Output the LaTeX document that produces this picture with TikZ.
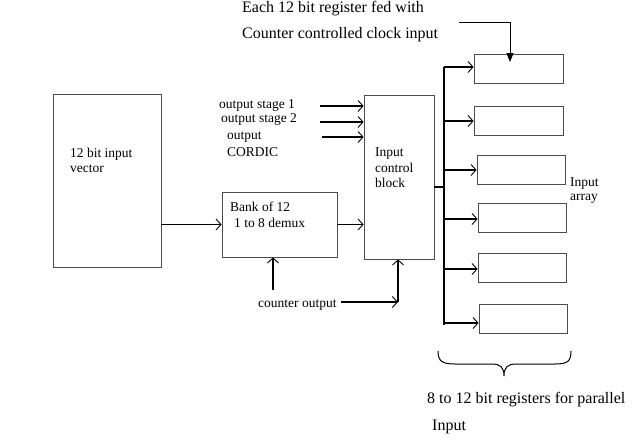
\documentclass[tikz,border=0pt]{standalone}
\usepackage{fontspec}
\setmainfont{Liberation Serif}
\usetikzlibrary{arrows.meta}
\begin{document}
\begin{tikzpicture}[x=1pt,y=-1pt,
  box/.style={draw=black!70,line width=0.8pt,rectangle,inner sep=0pt},
  lbl/.style={inner sep=0pt,anchor=base west,font=\fontsize{13.5}{16}\selectfont},
  big/.style={inner sep=0pt,anchor=base west,font=\fontsize{16}{19}\selectfont},
  bigger/.style={inner sep=0pt,anchor=base west,font=\fontsize{16}{19}\selectfont},
  conn/.style={line width=1.1pt,black},
  arr/.style={conn,-{Straight Barb[length=5pt,width=11pt,line width=0.9pt]}},
  farr/.style={line width=1pt,-{Triangle[length=9pt,width=7pt]}}]
\useasboundingbox (0,0) rectangle (632,440);
% boxes
\node[box,minimum width=108pt,minimum height=173pt] (vec) at (107,180.5) {};
\node[box,minimum width=115pt,minimum height=65pt] (bank) at (279.5,224.5) {};
\node[box,minimum width=70pt,minimum height=164pt] (icb) at (399,177) {};
\node[box,minimum width=89pt,minimum height=29pt] (r1) at (518.5,68.5) {};
\node[box,minimum width=89pt,minimum height=29pt] (r2) at (518.5,120.5) {};
\node[box,minimum width=88pt,minimum height=29pt] (r3) at (521,169.5) {};
\node[box,minimum width=88pt,minimum height=29pt] (r4) at (522,217.5) {};
\node[box,minimum width=88pt,minimum height=29pt] (r5) at (522,267.5) {};
\node[box,minimum width=88pt,minimum height=29pt] (r6) at (523,318.5) {};
% texts
\node[big] (t1) at (242,12) {Each 12 bit register fed with};
\node[big] (t2) at (242,38) {Counter controlled clock input};
\node[lbl] (v1) at (70,157) {12 bit input};
\node[lbl] (v2) at (70,172) {vector};
\node[lbl] (o1) at (219,108) {output stage 1};
\node[lbl] (o2) at (221,122) {output stage 2};
\node[lbl] (o3) at (227,139) {output};
\node[lbl] (o4) at (227,156) {CORDIC};
\node[lbl] (i1) at (375,156) {Input};
\node[lbl] (i2) at (375,172) {control};
\node[lbl] (i3) at (375,187) {block};
\node[lbl] (b1) at (230,211) {Bank of 12};
\node[lbl] (b2) at (234,227) {1 to 8 demux};
\node[lbl] (co) at (258,307) {counter output};
\node[lbl] (a1) at (570,186) {Input};
\node[lbl] (a2) at (570,200) {array};
\node[bigger] (p1) at (427,403) {8 to 12 bit registers for parallel};
\node[bigger] (p2) at (432,430) {Input};
% coordinates
\coordinate (s1) at (320,106);
\coordinate (s2) at (320,122);
\coordinate (s3) at (322,137);
\coordinate (c0) at (341,302);
\coordinate (cj) at (398,302);
\coordinate (bb) at (273,290);
\coordinate (bj) at (444,187);
\coordinate (bt) at (444,67);
\coordinate (bz) at (444,325);
\coordinate (ck) at (459,22);
\coordinate (ce) at (510,62);
% connectors
\draw[arr] (vec.east |- bank.west) -- (bank.west);
\draw[arr] (bank.east) -- (bank.east -| icb.west);
\draw[arr] (s1) -- (s1 -| icb.west);
\draw[arr] (s2) -- (s2 -| icb.west);
\draw[arr] (s3) -- (s3 -| icb.west);
\draw[arr] (c0) -- (cj);
\draw[arr] (cj) -- (cj |- icb.south);
\draw[arr] (bb) -- (bb |- bank.south);
\draw[conn] (bj -| icb.east) -- (bj);
\draw[conn] (bt) -- (bz);
\draw[arr] (bt) -- (bt -| r1.west);
\foreach \y/\r in {121/r2,170/r3,219/r4,269/r5,323/r6}{
  \draw[arr] (444,\y) -- (444,\y -| \r.west);
}
\draw[farr] (ck) -| (ce);
% brace
\draw[line width=1pt] (438,351) .. controls (438,361) and (442,364) .. (455,364) -- (492,364)
  .. controls (500,364) and (504,367) .. (504,376)
  .. controls (504,367) and (508,364) .. (516,364) -- (555,364)
  .. controls (568,364) and (571,361) .. (571,351);
\end{tikzpicture}
\end{document}
